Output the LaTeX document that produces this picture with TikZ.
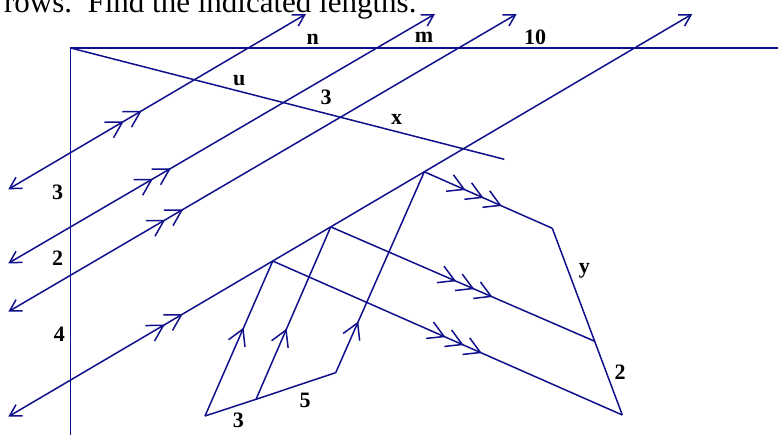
\documentclass[tikz,border=0pt]{standalone}
\usepackage{fontspec}
\setmainfont{Liberation Serif}
\usetikzlibrary{arrows.meta,calc,decorations.markings}
\definecolor{GeoBlue}{RGB}{16,16,140}
\tikzset{
  ln/.style={color=GeoBlue, line width=1.5pt},
  dbl/.style={ln, {Straight Barb[angle=60:13pt]}-{Straight Barb[angle=60:13pt]}},
  lbl/.style={font=\fontsize{22}{22}\selectfont\bfseries, text=black, inner sep=0pt, anchor=base},
  hdr/.style={font=\fontsize{31}{31}\selectfont, text=black, inner sep=0pt, anchor=base east},
  mkone/.style={postaction={decorate}, decoration={markings, mark=at position #1 with {\arrow{Straight Barb[angle=60:18pt]}}}},
  mktwo/.style={postaction={decorate}, decoration={markings, mark=at position #1 with {\arrow{Straight Barb[angle=60:18pt,sep=3pt] Straight Barb[angle=60:18pt]}}}},
  mkthree/.style={postaction={decorate}, decoration={markings, mark=at position #1 with {\arrow{Straight Barb[angle=60:18pt,sep=2pt] Straight Barb[angle=60:18pt,sep=2pt] Straight Barb[angle=60:18pt]}}}}
}
\begin{document}
\begin{tikzpicture}[x=1pt, y=-1pt]
\useasboundingbox (0,0) rectangle (778,435);
\clip (0,0) rectangle (778,435);
% corner and the two sides
\coordinate (o) at (70.7,48);
\coordinate (top) at (778,48);
\coordinate (bot) at (70.7,435);
\coordinate (e) at (504.3,159.3);
% the four parallels
\coordinate (a1) at (8.3,189.3);  \coordinate (t1) at (306,14);
\coordinate (a2) at (8.3,263.3);  \coordinate (t2) at (435,14);
\coordinate (a3) at (8.3,311.7);  \coordinate (t3) at (516.7,14);
\coordinate (a4) at (8.3,416.7);  \coordinate (t4) at (692.3,14);
% vertices on the last parallel
\coordinate (p1) at ($(a4)!0.3866!(t4)$);
\coordinate (p2) at ($(a4)!0.4714!(t4)$);
\coordinate (p3) at ($(a4)!0.6082!(t4)$);
% right transversal
\coordinate (q1) at (622.3,415);
\coordinate (q3) at (552.3,228.3);
\coordinate (q2) at ($(q3)!0.605!(q1)$);
% bottom transversal
\coordinate (b0) at (205,416);
\coordinate (b1) at (256,399.3);
\coordinate (b2) at (335.7,372.7);

\node[hdr] (title) at (416.7,12.7) {rows.\ \ Find the indicated lengths.};

\draw[ln] (bot) -- (o) -- (top);
\draw[ln] (o) -- (e);
\draw[dbl, mktwo=0.448] (a1) -- (t1);
\draw[dbl, mktwo=0.381] (a2) -- (t2);
\draw[dbl, mktwo=0.344] (a3) -- (t3);
\draw[dbl, mktwo=0.255] (a4) -- (t4);
\draw[ln, mkthree=0.605] (p3) -- (q3);
\draw[ln, mkthree=0.613] (p2) -- (q2);
\draw[ln, mkthree=0.598] (p1) -- (q1);
\draw[ln] (q3) -- (q1);
\draw[ln, mkone=0.57] (b0) -- (p1);
\draw[ln, mkone=0.41] (b1) -- (p2);
\draw[ln, mkone=0.255] (b2) -- (p3);
\draw[ln] (b0) -- (b1) -- (b2);

\node[lbl] (ln) at (312.7,44.3) {n};
\node[lbl] (lm) at (424,42.7) {m};
\node[lbl] (lten) at (535,44.3) {10};
\node[lbl] (lu) at (239.3,86) {u};
\node[lbl] (lthreeu) at (326,104.3) {3};
\node[lbl] (lx) at (396.7,125) {x};
\node[lbl] (lthreel) at (57.7,200) {3};
\node[lbl] (ltwol) at (57.7,266) {2};
\node[lbl] (lfour) at (59.3,341) {4};
\node[lbl] (lthreeb) at (238.3,427.7) {3};
\node[lbl] (lfive) at (305,407.7) {5};
\node[lbl] (ly) at (584.3,274) {y};
\node[lbl] (ltwor) at (620,379.3) {2};
\end{tikzpicture}
\end{document}
